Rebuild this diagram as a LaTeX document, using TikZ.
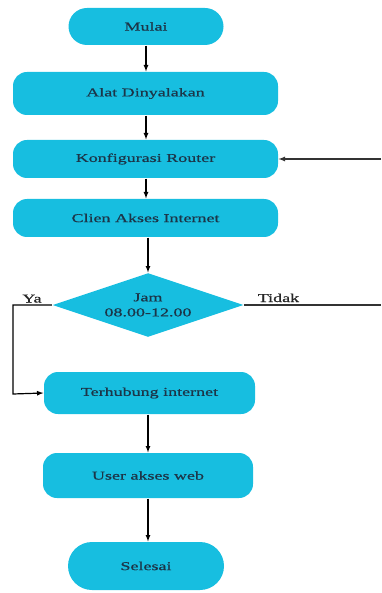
\documentclass[tikz,border=0pt]{standalone}
\usepackage{fontspec}
\setmainfont[FakeStretch=1.5,FakeBold=0.6]{Liberation Serif}
\usetikzlibrary{shapes.geometric}
\definecolor{kotak}{HTML}{17BEE0}
\definecolor{tulisan}{HTML}{1C3548}

\begin{document}
\begin{tikzpicture}[x=1pt, y=-1pt, >=latex, line width=1.2pt,
  every node/.style={font=\fontsize{12}{15}\selectfont},
  bentuk/.style={fill=kotak, text=tulisan, inner sep=0pt},
  proses/.style={bentuk, rounded corners=14pt},
  keputusan/.style={bentuk, diamond, aspect=3, minimum width=191pt, minimum height=64pt, align=center},
  label/.style={text=black!85, anchor=base}]
\useasboundingbox (0,0) rectangle (381,593);

% Terminal
\node[bentuk, rounded corners=18.5pt, minimum width=155pt, minimum height=37pt] (mulai) at (146,26.5) {Mulai};
\node[bentuk, rounded corners=24pt, minimum width=156pt, minimum height=48pt] (selesai) at (146,566) {Selesai};

% Proses
\node[proses, minimum width=265pt, minimum height=43pt] (alat) at (145.5,93.5) {Alat Dinyalakan};
\node[proses, minimum width=265pt, minimum height=38pt] (router) at (145.5,159) {Konfigurasi Router};
\node[proses, minimum width=265pt, minimum height=38pt] (klien) at (145.5,218) {Clien Akses Internet};
\node[keputusan] (jam) at (148,305) {Jam\\08.00-12.00};
\node[proses, minimum width=211pt, minimum height=42pt] (terhubung) at (149.5,393) {Terhubung internet};
\node[proses, minimum width=210pt, minimum height=45pt] (web) at (148,475.5) {User akses web};

% Panah
\draw[->] (mulai.south) -- (mulai.south |- alat.north);
\draw[->] (mulai.south |- alat.south) -- (mulai.south |- router.north);
\draw[->] (mulai.south |- router.south) -- (mulai.south |- klien.north);
\draw[->] (jam.north |- klien.south) -- (jam.north);
\draw[->] (jam.north |- terhubung.south) -- (jam.north |- web.north);
\draw[->] (jam.north |- web.south) -- (jam.north |- selesai.north);

% Cabang
\coordinate (kiri) at (13,394);
\coordinate (kanan) at (381,0);
\draw[->] (jam.west) -| (kiri) -- (terhubung.west);
\draw[black!80] (jam.east) -- (jam.east -| kanan);
\draw[->, black!80] (router.east -| kanan) -- (router.east);

\node[label] (ya) at (32,302.5) {Ya};
\node[label] (tidak) at (278.5,302) {Tidak};

\end{tikzpicture}
\end{document}
